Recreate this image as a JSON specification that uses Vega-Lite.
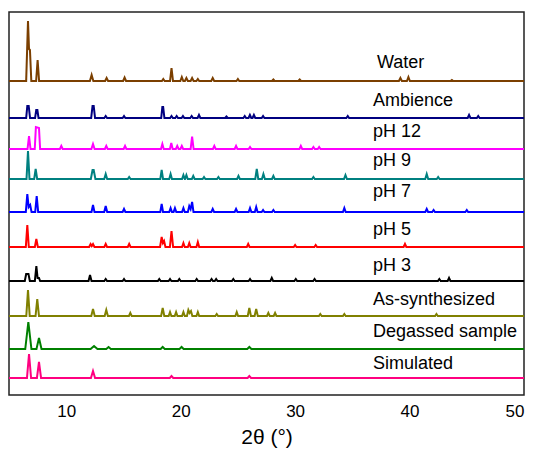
{
"$schema": "https://vega.github.io/schema/vega-lite/v6.json",
"width": 515, "height": 383,
"autosize": {"type": "none"},
"padding": {"left": 9, "top": 12, "right": 12, "bottom": 59},
"background": "white",
"config": {"view": {"stroke": "#222", "strokeWidth": 1.5}, "font": "Liberation Sans"},
"datasets": {
"xrd": [
{"s":"Water","x":5,"y":314},{"s":"Water","x":6.5,"y":314},{"s":"Water","x":6.66,"y":374},{"s":"Water","x":6.75,"y":346},{"s":"Water","x":6.83,"y":345},{"s":"Water","x":6.95,"y":314},{"s":"Water","x":7.37,"y":314},{"s":"Water","x":7.5,"y":335},{"s":"Water","x":7.63,"y":314},{"s":"Water","x":12.07,"y":314},{"s":"Water","x":12.22,"y":320},{"s":"Water","x":12.37,"y":314},{"s":"Water","x":13.4,"y":314},{"s":"Water","x":13.53,"y":317},{"s":"Water","x":13.66,"y":314},{"s":"Water","x":14.97,"y":314},{"s":"Water","x":15.1,"y":317.5},{"s":"Water","x":15.23,"y":314},{"s":"Water","x":18.36,"y":314},{"s":"Water","x":18.48,"y":316},{"s":"Water","x":18.6,"y":314},{"s":"Water","x":19.07,"y":314},{"s":"Water","x":19.2,"y":327},{"s":"Water","x":19.33,"y":314},{"s":"Water","x":19.97,"y":314},{"s":"Water","x":20.1,"y":318},{"s":"Water","x":20.23,"y":314},{"s":"Water","x":20.37,"y":314},{"s":"Water","x":20.5,"y":317},{"s":"Water","x":20.63,"y":314},{"s":"Water","x":20.87,"y":314},{"s":"Water","x":21,"y":317},{"s":"Water","x":21.13,"y":314},{"s":"Water","x":21.38,"y":314},{"s":"Water","x":21.5,"y":316},{"s":"Water","x":21.62,"y":314},{"s":"Water","x":22.67,"y":314},{"s":"Water","x":22.8,"y":317},{"s":"Water","x":22.93,"y":314},{"s":"Water","x":24.88,"y":314},{"s":"Water","x":25,"y":316},{"s":"Water","x":25.12,"y":314},{"s":"Water","x":27.98,"y":314},{"s":"Water","x":28.1,"y":315.5},{"s":"Water","x":28.22,"y":314},{"s":"Water","x":30.28,"y":314},{"s":"Water","x":30.4,"y":315.5},{"s":"Water","x":30.52,"y":314},{"s":"Water","x":39.07,"y":314},{"s":"Water","x":39.2,"y":317},{"s":"Water","x":39.33,"y":314},{"s":"Water","x":39.77,"y":314},{"s":"Water","x":39.9,"y":318},{"s":"Water","x":40.03,"y":314},{"s":"Water","x":43.58,"y":314},{"s":"Water","x":43.7,"y":315},{"s":"Water","x":43.82,"y":314},{"s":"Water","x":50,"y":314},

{"s":"Ambience","x":5,"y":277},{"s":"Ambience","x":6.5,"y":277},{"s":"Ambience","x":6.6,"y":289},{"s":"Ambience","x":6.72,"y":289},{"s":"Ambience","x":6.84,"y":277},{"s":"Ambience","x":7.28,"y":277},{"s":"Ambience","x":7.38,"y":285},{"s":"Ambience","x":7.48,"y":285},{"s":"Ambience","x":7.58,"y":277},{"s":"Ambience","x":12.18,"y":277},{"s":"Ambience","x":12.3,"y":289},{"s":"Ambience","x":12.4,"y":289},{"s":"Ambience","x":12.52,"y":277},{"s":"Ambience","x":13.33,"y":277},{"s":"Ambience","x":13.45,"y":279},{"s":"Ambience","x":13.57,"y":277},{"s":"Ambience","x":14.93,"y":277},{"s":"Ambience","x":15.05,"y":279},{"s":"Ambience","x":15.17,"y":277},{"s":"Ambience","x":18.3,"y":277},{"s":"Ambience","x":18.4,"y":288},{"s":"Ambience","x":18.47,"y":288},{"s":"Ambience","x":18.58,"y":277},{"s":"Ambience","x":19.08,"y":277},{"s":"Ambience","x":19.2,"y":279},{"s":"Ambience","x":19.32,"y":277},{"s":"Ambience","x":19.53,"y":277},{"s":"Ambience","x":19.65,"y":279},{"s":"Ambience","x":19.77,"y":277},{"s":"Ambience","x":20.08,"y":277},{"s":"Ambience","x":20.2,"y":279},{"s":"Ambience","x":20.32,"y":277},{"s":"Ambience","x":20.84,"y":277},{"s":"Ambience","x":20.96,"y":279},{"s":"Ambience","x":21.08,"y":277},{"s":"Ambience","x":21.48,"y":277},{"s":"Ambience","x":21.6,"y":280},{"s":"Ambience","x":21.72,"y":277},{"s":"Ambience","x":23.88,"y":277},{"s":"Ambience","x":24,"y":278.5},{"s":"Ambience","x":24.12,"y":277},{"s":"Ambience","x":25.48,"y":277},{"s":"Ambience","x":25.6,"y":279},{"s":"Ambience","x":25.72,"y":277},{"s":"Ambience","x":25.93,"y":277},{"s":"Ambience","x":26.05,"y":280},{"s":"Ambience","x":26.17,"y":277},{"s":"Ambience","x":26.28,"y":277},{"s":"Ambience","x":26.4,"y":280},{"s":"Ambience","x":26.52,"y":277},{"s":"Ambience","x":27.08,"y":277},{"s":"Ambience","x":27.2,"y":279},{"s":"Ambience","x":27.32,"y":277},{"s":"Ambience","x":34.48,"y":277},{"s":"Ambience","x":34.6,"y":279},{"s":"Ambience","x":34.72,"y":277},{"s":"Ambience","x":45.08,"y":277},{"s":"Ambience","x":45.2,"y":280},{"s":"Ambience","x":45.32,"y":277},{"s":"Ambience","x":45.88,"y":277},{"s":"Ambience","x":46,"y":279},{"s":"Ambience","x":46.12,"y":277},{"s":"Ambience","x":50,"y":277},

{"s":"pH 12","x":5,"y":246},{"s":"pH 12","x":6.62,"y":246},{"s":"pH 12","x":6.75,"y":259},{"s":"pH 12","x":6.88,"y":246},{"s":"pH 12","x":7.25,"y":246},{"s":"pH 12","x":7.35,"y":268},{"s":"pH 12","x":7.62,"y":267},{"s":"pH 12","x":7.72,"y":246},{"s":"pH 12","x":9.45,"y":246},{"s":"pH 12","x":9.57,"y":249},{"s":"pH 12","x":9.69,"y":246},{"s":"pH 12","x":12.2,"y":246},{"s":"pH 12","x":12.34,"y":251},{"s":"pH 12","x":12.48,"y":246},{"s":"pH 12","x":13.38,"y":246},{"s":"pH 12","x":13.5,"y":249},{"s":"pH 12","x":13.62,"y":246},{"s":"pH 12","x":15.02,"y":246},{"s":"pH 12","x":15.14,"y":249},{"s":"pH 12","x":15.26,"y":246},{"s":"pH 12","x":18.28,"y":246},{"s":"pH 12","x":18.4,"y":251},{"s":"pH 12","x":18.52,"y":246},{"s":"pH 12","x":19.06,"y":246},{"s":"pH 12","x":19.18,"y":252},{"s":"pH 12","x":19.3,"y":246},{"s":"pH 12","x":19.58,"y":246},{"s":"pH 12","x":19.7,"y":249},{"s":"pH 12","x":19.82,"y":246},{"s":"pH 12","x":19.98,"y":246},{"s":"pH 12","x":20.1,"y":249},{"s":"pH 12","x":20.22,"y":246},{"s":"pH 12","x":20.87,"y":246},{"s":"pH 12","x":21,"y":258.5},{"s":"pH 12","x":21.13,"y":246},{"s":"pH 12","x":22.82,"y":246},{"s":"pH 12","x":22.94,"y":249},{"s":"pH 12","x":23.06,"y":246},{"s":"pH 12","x":24.72,"y":246},{"s":"pH 12","x":24.84,"y":249},{"s":"pH 12","x":24.96,"y":246},{"s":"pH 12","x":25.94,"y":246},{"s":"pH 12","x":26.06,"y":248},{"s":"pH 12","x":26.18,"y":246},{"s":"pH 12","x":30.38,"y":246},{"s":"pH 12","x":30.5,"y":249},{"s":"pH 12","x":30.62,"y":246},{"s":"pH 12","x":31.48,"y":246},{"s":"pH 12","x":31.6,"y":248},{"s":"pH 12","x":31.72,"y":246},{"s":"pH 12","x":31.98,"y":246},{"s":"pH 12","x":32.1,"y":248},{"s":"pH 12","x":32.22,"y":246},{"s":"pH 12","x":50,"y":246},

{"s":"pH 9","x":5,"y":216},{"s":"pH 9","x":6.53,"y":216},{"s":"pH 9","x":6.66,"y":244},{"s":"pH 9","x":6.79,"y":216},{"s":"pH 9","x":7.2,"y":216},{"s":"pH 9","x":7.33,"y":226},{"s":"pH 9","x":7.46,"y":216},{"s":"pH 9","x":12.15,"y":216},{"s":"pH 9","x":12.3,"y":225},{"s":"pH 9","x":12.4,"y":225},{"s":"pH 9","x":12.55,"y":216},{"s":"pH 9","x":13.32,"y":216},{"s":"pH 9","x":13.45,"y":221},{"s":"pH 9","x":13.58,"y":216},{"s":"pH 9","x":15.38,"y":216},{"s":"pH 9","x":15.5,"y":218},{"s":"pH 9","x":15.62,"y":216},{"s":"pH 9","x":18.22,"y":216},{"s":"pH 9","x":18.34,"y":225},{"s":"pH 9","x":18.46,"y":216},{"s":"pH 9","x":19,"y":216},{"s":"pH 9","x":19.12,"y":221},{"s":"pH 9","x":19.24,"y":216},{"s":"pH 9","x":20.12,"y":216},{"s":"pH 9","x":20.24,"y":220},{"s":"pH 9","x":20.36,"y":216},{"s":"pH 9","x":20.38,"y":216},{"s":"pH 9","x":20.5,"y":220},{"s":"pH 9","x":20.62,"y":216},{"s":"pH 9","x":20.98,"y":216},{"s":"pH 9","x":21.1,"y":219},{"s":"pH 9","x":21.22,"y":216},{"s":"pH 9","x":21.92,"y":216},{"s":"pH 9","x":22.04,"y":218},{"s":"pH 9","x":22.16,"y":216},{"s":"pH 9","x":23.18,"y":216},{"s":"pH 9","x":23.3,"y":218},{"s":"pH 9","x":23.42,"y":216},{"s":"pH 9","x":24.93,"y":216},{"s":"pH 9","x":25.05,"y":219},{"s":"pH 9","x":25.17,"y":216},{"s":"pH 9","x":26.52,"y":216},{"s":"pH 9","x":26.65,"y":226},{"s":"pH 9","x":26.78,"y":216},{"s":"pH 9","x":27.1,"y":216},{"s":"pH 9","x":27.23,"y":221},{"s":"pH 9","x":27.36,"y":216},{"s":"pH 9","x":27.98,"y":216},{"s":"pH 9","x":28.1,"y":219},{"s":"pH 9","x":28.22,"y":216},{"s":"pH 9","x":31.48,"y":216},{"s":"pH 9","x":31.6,"y":218},{"s":"pH 9","x":31.72,"y":216},{"s":"pH 9","x":34.27,"y":216},{"s":"pH 9","x":34.4,"y":220},{"s":"pH 9","x":34.53,"y":216},{"s":"pH 9","x":41.37,"y":216},{"s":"pH 9","x":41.5,"y":221},{"s":"pH 9","x":41.63,"y":216},{"s":"pH 9","x":42.38,"y":216},{"s":"pH 9","x":42.5,"y":218},{"s":"pH 9","x":42.62,"y":216},{"s":"pH 9","x":50,"y":216},

{"s":"pH 7","x":5,"y":183},{"s":"pH 7","x":6.47,"y":183},{"s":"pH 7","x":6.6,"y":201},{"s":"pH 7","x":6.72,"y":188},{"s":"pH 7","x":6.85,"y":190},{"s":"pH 7","x":6.97,"y":183},{"s":"pH 7","x":7.29,"y":183},{"s":"pH 7","x":7.42,"y":199},{"s":"pH 7","x":7.55,"y":183},{"s":"pH 7","x":12.21,"y":183},{"s":"pH 7","x":12.34,"y":190},{"s":"pH 7","x":12.47,"y":183},{"s":"pH 7","x":13.32,"y":183},{"s":"pH 7","x":13.45,"y":189},{"s":"pH 7","x":13.58,"y":183},{"s":"pH 7","x":14.93,"y":183},{"s":"pH 7","x":15.05,"y":186},{"s":"pH 7","x":15.17,"y":183},{"s":"pH 7","x":18.22,"y":183},{"s":"pH 7","x":18.34,"y":191},{"s":"pH 7","x":18.46,"y":183},{"s":"pH 7","x":19,"y":183},{"s":"pH 7","x":19.12,"y":187},{"s":"pH 7","x":19.24,"y":183},{"s":"pH 7","x":19.38,"y":183},{"s":"pH 7","x":19.5,"y":187},{"s":"pH 7","x":19.62,"y":183},{"s":"pH 7","x":20.12,"y":183},{"s":"pH 7","x":20.24,"y":187},{"s":"pH 7","x":20.36,"y":183},{"s":"pH 7","x":20.63,"y":183},{"s":"pH 7","x":20.75,"y":189},{"s":"pH 7","x":20.87,"y":186},{"s":"pH 7","x":21,"y":193},{"s":"pH 7","x":21.12,"y":183},{"s":"pH 7","x":22.68,"y":183},{"s":"pH 7","x":22.8,"y":186},{"s":"pH 7","x":22.92,"y":183},{"s":"pH 7","x":24.72,"y":183},{"s":"pH 7","x":24.84,"y":186},{"s":"pH 7","x":24.96,"y":183},{"s":"pH 7","x":25.94,"y":183},{"s":"pH 7","x":26.06,"y":187},{"s":"pH 7","x":26.18,"y":183},{"s":"pH 7","x":26.48,"y":183},{"s":"pH 7","x":26.6,"y":188},{"s":"pH 7","x":26.72,"y":183},{"s":"pH 7","x":27.08,"y":183},{"s":"pH 7","x":27.2,"y":185},{"s":"pH 7","x":27.32,"y":183},{"s":"pH 7","x":27.98,"y":183},{"s":"pH 7","x":28.1,"y":185},{"s":"pH 7","x":28.22,"y":183},{"s":"pH 7","x":34.18,"y":183},{"s":"pH 7","x":34.3,"y":187},{"s":"pH 7","x":34.42,"y":183},{"s":"pH 7","x":41.38,"y":183},{"s":"pH 7","x":41.5,"y":186},{"s":"pH 7","x":41.62,"y":183},{"s":"pH 7","x":41.98,"y":183},{"s":"pH 7","x":42.1,"y":185},{"s":"pH 7","x":42.22,"y":183},{"s":"pH 7","x":44.88,"y":183},{"s":"pH 7","x":45,"y":185},{"s":"pH 7","x":45.12,"y":183},{"s":"pH 7","x":50,"y":183},

{"s":"pH 5","x":5,"y":148},{"s":"pH 5","x":6.47,"y":148},{"s":"pH 5","x":6.6,"y":170},{"s":"pH 5","x":6.73,"y":148},{"s":"pH 5","x":7.26,"y":148},{"s":"pH 5","x":7.39,"y":156},{"s":"pH 5","x":7.52,"y":148},{"s":"pH 5","x":12,"y":148},{"s":"pH 5","x":12.13,"y":151},{"s":"pH 5","x":12.23,"y":149},{"s":"pH 5","x":12.34,"y":151},{"s":"pH 5","x":12.47,"y":148},{"s":"pH 5","x":13.33,"y":148},{"s":"pH 5","x":13.45,"y":151},{"s":"pH 5","x":13.57,"y":148},{"s":"pH 5","x":15.38,"y":148},{"s":"pH 5","x":15.5,"y":151},{"s":"pH 5","x":15.62,"y":148},{"s":"pH 5","x":18.2,"y":148},{"s":"pH 5","x":18.34,"y":158},{"s":"pH 5","x":18.45,"y":152},{"s":"pH 5","x":18.55,"y":154},{"s":"pH 5","x":18.67,"y":148},{"s":"pH 5","x":19.06,"y":148},{"s":"pH 5","x":19.2,"y":164},{"s":"pH 5","x":19.34,"y":148},{"s":"pH 5","x":20.12,"y":148},{"s":"pH 5","x":20.24,"y":152},{"s":"pH 5","x":20.36,"y":148},{"s":"pH 5","x":20.63,"y":148},{"s":"pH 5","x":20.75,"y":152},{"s":"pH 5","x":20.87,"y":148},{"s":"pH 5","x":21.38,"y":148},{"s":"pH 5","x":21.5,"y":153},{"s":"pH 5","x":21.62,"y":148},{"s":"pH 5","x":25.78,"y":148},{"s":"pH 5","x":25.9,"y":151},{"s":"pH 5","x":26.02,"y":148},{"s":"pH 5","x":29.88,"y":148},{"s":"pH 5","x":30,"y":150},{"s":"pH 5","x":30.12,"y":148},{"s":"pH 5","x":31.68,"y":148},{"s":"pH 5","x":31.8,"y":150},{"s":"pH 5","x":31.92,"y":148},{"s":"pH 5","x":39.48,"y":148},{"s":"pH 5","x":39.6,"y":151},{"s":"pH 5","x":39.72,"y":148},{"s":"pH 5","x":50,"y":148},

{"s":"pH 3","x":5,"y":114},{"s":"pH 3","x":6.38,"y":114},{"s":"pH 3","x":6.5,"y":121},{"s":"pH 3","x":6.7,"y":121},{"s":"pH 3","x":6.82,"y":114},{"s":"pH 3","x":7.26,"y":114},{"s":"pH 3","x":7.39,"y":129},{"s":"pH 3","x":7.5,"y":117},{"s":"pH 3","x":7.62,"y":117},{"s":"pH 3","x":7.72,"y":114},{"s":"pH 3","x":11.95,"y":114},{"s":"pH 3","x":12.08,"y":120},{"s":"pH 3","x":12.21,"y":114},{"s":"pH 3","x":13.33,"y":114},{"s":"pH 3","x":13.45,"y":116},{"s":"pH 3","x":13.57,"y":114},{"s":"pH 3","x":14.93,"y":114},{"s":"pH 3","x":15.05,"y":116},{"s":"pH 3","x":15.17,"y":114},{"s":"pH 3","x":18.01,"y":114},{"s":"pH 3","x":18.13,"y":116},{"s":"pH 3","x":18.25,"y":114},{"s":"pH 3","x":18.95,"y":114},{"s":"pH 3","x":19.07,"y":116},{"s":"pH 3","x":19.19,"y":114},{"s":"pH 3","x":19.76,"y":114},{"s":"pH 3","x":19.88,"y":116},{"s":"pH 3","x":20,"y":114},{"s":"pH 3","x":21.28,"y":114},{"s":"pH 3","x":21.4,"y":116},{"s":"pH 3","x":21.52,"y":114},{"s":"pH 3","x":22.58,"y":114},{"s":"pH 3","x":22.7,"y":116},{"s":"pH 3","x":22.82,"y":114},{"s":"pH 3","x":22.98,"y":114},{"s":"pH 3","x":23.1,"y":116},{"s":"pH 3","x":23.22,"y":114},{"s":"pH 3","x":24.48,"y":114},{"s":"pH 3","x":24.6,"y":116},{"s":"pH 3","x":24.72,"y":114},{"s":"pH 3","x":25.94,"y":114},{"s":"pH 3","x":26.06,"y":116},{"s":"pH 3","x":26.18,"y":114},{"s":"pH 3","x":27.84,"y":114},{"s":"pH 3","x":27.96,"y":117},{"s":"pH 3","x":28.08,"y":114},{"s":"pH 3","x":29.94,"y":114},{"s":"pH 3","x":30.06,"y":116},{"s":"pH 3","x":30.18,"y":114},{"s":"pH 3","x":31.58,"y":114},{"s":"pH 3","x":31.7,"y":116},{"s":"pH 3","x":31.82,"y":114},{"s":"pH 3","x":42.48,"y":114},{"s":"pH 3","x":42.6,"y":116},{"s":"pH 3","x":42.72,"y":114},{"s":"pH 3","x":43.33,"y":114},{"s":"pH 3","x":43.45,"y":117},{"s":"pH 3","x":43.57,"y":114},{"s":"pH 3","x":50,"y":114},

{"s":"As-synthesized","x":5,"y":79},{"s":"As-synthesized","x":6.51,"y":79},{"s":"As-synthesized","x":6.66,"y":105},{"s":"As-synthesized","x":6.81,"y":79},{"s":"As-synthesized","x":7.32,"y":79},{"s":"As-synthesized","x":7.47,"y":96},{"s":"As-synthesized","x":7.62,"y":79},{"s":"As-synthesized","x":12.19,"y":79},{"s":"As-synthesized","x":12.34,"y":86},{"s":"As-synthesized","x":12.49,"y":79},{"s":"As-synthesized","x":13.36,"y":79},{"s":"As-synthesized","x":13.5,"y":85},{"s":"As-synthesized","x":13.64,"y":79},{"s":"As-synthesized","x":15.48,"y":79},{"s":"As-synthesized","x":15.6,"y":82},{"s":"As-synthesized","x":15.72,"y":79},{"s":"As-synthesized","x":18.29,"y":79},{"s":"As-synthesized","x":18.43,"y":87},{"s":"As-synthesized","x":18.57,"y":79},{"s":"As-synthesized","x":18.95,"y":79},{"s":"As-synthesized","x":19.07,"y":83},{"s":"As-synthesized","x":19.19,"y":79},{"s":"As-synthesized","x":19.48,"y":79},{"s":"As-synthesized","x":19.6,"y":83},{"s":"As-synthesized","x":19.72,"y":79},{"s":"As-synthesized","x":20.12,"y":79},{"s":"As-synthesized","x":20.24,"y":83},{"s":"As-synthesized","x":20.36,"y":79},{"s":"As-synthesized","x":20.55,"y":79},{"s":"As-synthesized","x":20.67,"y":85},{"s":"As-synthesized","x":20.78,"y":82},{"s":"As-synthesized","x":20.9,"y":84},{"s":"As-synthesized","x":21.02,"y":79},{"s":"As-synthesized","x":21.38,"y":79},{"s":"As-synthesized","x":21.5,"y":83},{"s":"As-synthesized","x":21.62,"y":79},{"s":"As-synthesized","x":23.03,"y":79},{"s":"As-synthesized","x":23.15,"y":81},{"s":"As-synthesized","x":23.27,"y":79},{"s":"As-synthesized","x":24.78,"y":79},{"s":"As-synthesized","x":24.9,"y":83},{"s":"As-synthesized","x":25.02,"y":79},{"s":"As-synthesized","x":25.86,"y":79},{"s":"As-synthesized","x":26,"y":87},{"s":"As-synthesized","x":26.14,"y":79},{"s":"As-synthesized","x":26.46,"y":79},{"s":"As-synthesized","x":26.6,"y":86},{"s":"As-synthesized","x":26.74,"y":79},{"s":"As-synthesized","x":27.54,"y":79},{"s":"As-synthesized","x":27.66,"y":82},{"s":"As-synthesized","x":27.78,"y":79},{"s":"As-synthesized","x":28.13,"y":79},{"s":"As-synthesized","x":28.25,"y":82},{"s":"As-synthesized","x":28.37,"y":79},{"s":"As-synthesized","x":32.08,"y":79},{"s":"As-synthesized","x":32.2,"y":81},{"s":"As-synthesized","x":32.32,"y":79},{"s":"As-synthesized","x":34.18,"y":79},{"s":"As-synthesized","x":34.3,"y":81},{"s":"As-synthesized","x":34.42,"y":79},{"s":"As-synthesized","x":42.23,"y":79},{"s":"As-synthesized","x":42.35,"y":81},{"s":"As-synthesized","x":42.47,"y":79},{"s":"As-synthesized","x":50,"y":79},

{"s":"Degassed sample","x":5,"y":46},{"s":"Degassed sample","x":6.42,"y":46},{"s":"Degassed sample","x":6.69,"y":73},{"s":"Degassed sample","x":6.96,"y":46},{"s":"Degassed sample","x":7.4,"y":46},{"s":"Degassed sample","x":7.62,"y":57},{"s":"Degassed sample","x":7.84,"y":46},{"s":"Degassed sample","x":12.13,"y":46},{"s":"Degassed sample","x":12.43,"y":49},{"s":"Degassed sample","x":12.73,"y":46},{"s":"Degassed sample","x":13.5,"y":46},{"s":"Degassed sample","x":13.7,"y":48},{"s":"Degassed sample","x":13.9,"y":46},{"s":"Degassed sample","x":18.25,"y":46},{"s":"Degassed sample","x":18.43,"y":48},{"s":"Degassed sample","x":18.61,"y":46},{"s":"Degassed sample","x":19.9,"y":46},{"s":"Degassed sample","x":20.08,"y":48},{"s":"Degassed sample","x":20.26,"y":46},{"s":"Degassed sample","x":25.82,"y":46},{"s":"Degassed sample","x":26,"y":48},{"s":"Degassed sample","x":26.18,"y":46},{"s":"Degassed sample","x":50,"y":46},

{"s":"Simulated","x":5,"y":17},{"s":"Simulated","x":6.57,"y":17},{"s":"Simulated","x":6.75,"y":41},{"s":"Simulated","x":6.93,"y":17},{"s":"Simulated","x":7.44,"y":17},{"s":"Simulated","x":7.62,"y":33},{"s":"Simulated","x":7.8,"y":17},{"s":"Simulated","x":12.16,"y":17},{"s":"Simulated","x":12.34,"y":24},{"s":"Simulated","x":12.52,"y":17},{"s":"Simulated","x":19.05,"y":17},{"s":"Simulated","x":19.2,"y":19},{"s":"Simulated","x":19.35,"y":17},{"s":"Simulated","x":25.85,"y":17},{"s":"Simulated","x":26,"y":19},{"s":"Simulated","x":26.15,"y":17},{"s":"Simulated","x":50,"y":17}
],
"labels": [
{"label":"Water","x":37.15,"y":332},
{"label":"Ambience","x":36.8,"y":294},
{"label":"pH 12","x":36.8,"y":263},
{"label":"pH 9","x":36.8,"y":234},
{"label":"pH 7","x":36.8,"y":203},
{"label":"pH 5","x":36.8,"y":165},
{"label":"pH 3","x":36.8,"y":129},
{"label":"As-synthesized","x":36.8,"y":95},
{"label":"Degassed sample","x":36.8,"y":63},
{"label":"Simulated","x":36.8,"y":31}
]
},
"layer": [
{
"data": {"name": "xrd"},
"mark": {"type": "line", "strokeWidth": 2},
"encoding": {
"x": {"field": "x", "type": "quantitative", "scale": {"domain": [5, 50], "nice": false, "zero": false},
 "axis": {"values": [10, 20, 30, 40, 50], "ticks": false, "domain": false, "grid": false, "labelFontSize": 17, "labelColor": "black", "labelPadding": 8, "labelFont": "Liberation Sans", "title": "2θ (°)", "titleFont": "Liberation Sans", "titleFontSize": 21, "titleFontWeight": "normal", "titleColor": "black", "titlePadding": 7}},
"y": {"field": "y", "type": "quantitative", "scale": {"domain": [0, 383], "nice": false}, "axis": null},
"color": {"field": "s", "type": "nominal", "legend": null,
 "scale": {"domain": ["Water", "Ambience", "pH 12", "pH 9", "pH 7", "pH 5", "pH 3", "As-synthesized", "Degassed sample", "Simulated"],
 "range": ["#7B3F00", "#000080", "#FF00FF", "#008080", "#0000FF", "#FF0000", "#000000", "#808000", "#008000", "#FF0080"]}}
}
},
{
"data": {"name": "labels"},
"mark": {"type": "text", "align": "left", "baseline": "middle", "fontSize": 18, "font": "Liberation Sans", "color": "black"},
"encoding": {
"x": {"field": "x", "type": "quantitative"},
"y": {"field": "y", "type": "quantitative"},
"text": {"field": "label"}
}
}
]
}
